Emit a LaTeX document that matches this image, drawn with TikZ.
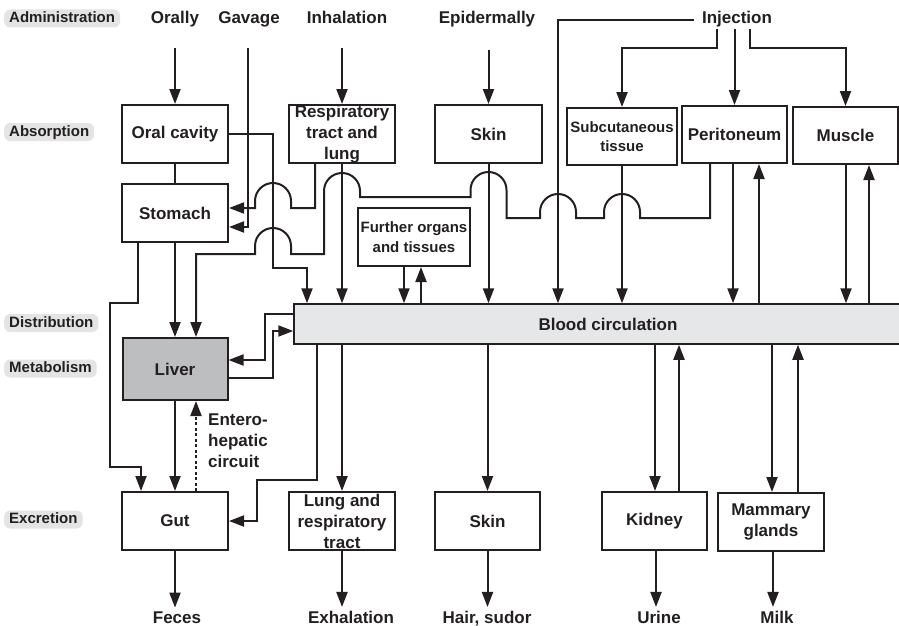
\documentclass[tikz,border=0pt]{standalone}
\usepackage{fontspec}
\setmainfont{Liberation Sans}
\usetikzlibrary{arrows.meta}
\definecolor{ink}{HTML}{231F20}
\definecolor{labgray}{HTML}{E4E4E4}
\definecolor{bloodgray}{HTML}{E6E7E8}
\definecolor{livergray}{HTML}{BCBEC0}
\newcommand\mainf{\fontsize{17}{21}\selectfont\bfseries}
\newcommand\smallf{\fontsize{15}{19.5}\selectfont\bfseries}
\newcommand\labf{\fontsize{15}{18}\selectfont\bfseries}
\tikzset{
  ln/.style={draw=ink, line width=2pt},
  arr/.style={ln, -{Triangle[length=15pt,width=11pt]}},
  box/.style={draw=ink, line width=2pt, minimum width=106pt, minimum height=58pt,
    inner sep=0pt, align=center, font=\mainf, text=ink},
  lab/.style={fill=labgray, rounded corners=6pt, inner xsep=5pt, inner ysep=2pt,
    text height=11pt, text depth=3pt, anchor=west, font=\labf, text=ink},
  txt/.style={font=\mainf, text=ink, inner xsep=1pt, inner ysep=4pt},
}
\begin{document}
\begin{tikzpicture}[x=1pt,y=1pt]
\useasboundingbox (0,0) rectangle (899,-626);

% stage labels
\node[lab] (ladm) at (4,-18.5) {Administration};
\node[lab] (labs) at (4,-132) {Absorption};
\node[lab] (ldis) at (4,-323) {Distribution};
\node[lab] (lmet) at (4,-368.5) {Metabolism};
\node[lab] (lexc) at (4,-519.5) {Excretion};

% routes of administration
\node[txt, anchor=base] (orally) at (175,-24) {Orally};
\node[txt, anchor=base] (gavage) at (249,-24) {Gavage};
\node[txt, anchor=base] (inhal) at (347,-24) {Inhalation};
\node[txt, anchor=base] (epi) at (487,-24) {Epidermally};
\node[txt, anchor=base] (inj) at (737,-24) {Injection};

% boxes
\node[box] (oral) at (175,-134) {Oral cavity};
\node[box] (stomach) at (175,-213) {Stomach};
\node[box] (resp) at (342,-134) {Respiratory\\tract and\\lung};
\node[box, minimum width=107pt] (skinA) at (488.5,-134) {Skin};
\node[box, minimum width=110pt, minimum height=57pt, font=\smallf] (subcut) at (622,-136.5) {Subcutaneous\\tissue};
\node[box, minimum width=105pt, minimum height=57pt] (perit) at (734.5,-134.5) {Peritoneum};
\node[box, minimum width=105pt, minimum height=57pt] (muscle) at (845.5,-135.5) {Muscle};
\node[box, minimum width=112pt, font=\smallf] (further) at (414,-237) {Further organs\\and tissues};
\node[draw=ink, line width=1.5pt, fill=bloodgray, minimum width=606pt, minimum height=40pt,
  inner sep=0pt, label={[txt, xshift=11pt]center:Blood circulation}] (blood) at (597,-324) {};
\node[box, fill=livergray, minimum width=105pt, minimum height=62pt] (liver) at (175,-369) {Liver};
\node[box] (gut) at (175,-521) {Gut};
\node[box] (lung) at (342,-521) {Lung and\\respiratory\\tract};
\node[box, minimum width=105pt] (skinB) at (487.5,-521) {Skin};
\node[box, minimum width=105pt] (kidney) at (654.5,-521) {Kidney};
\node[box] (mammary) at (771,-522) {Mammary\\glands};

% outputs
\node[txt, anchor=base] (feces) at (177,-623.5) {Feces};
\node[txt, anchor=base] (exhal) at (351,-623.5) {Exhalation};
\node[txt, anchor=base] (hair) at (487,-623.5) {Hair, sudor};
\node[txt, anchor=base] (urine) at (659,-623.5) {Urine};
\node[txt, anchor=base] (milk) at (777,-623.5) {Milk};
\node[txt, anchor=west, align=left] (entero) at (207,-441) {Entero-\\hepatic\\circuit};

% free ends
\coordinate (gavtop) at (248,-48);
\coordinate (injA) at (717,-29);
\coordinate (injB) at (750,-29);

% administration arrows
\draw[arr] (oral.north |- 0,-48) -- (oral.north);
\draw[arr] (gavtop) -- (248,-227) -- (stomach.east |- 0,-227);
\draw[arr] (resp.north |- 0,-48) -- (resp.north);
\draw[arr] (skinA.north |- 0,-50) -- (skinA.north);
\draw[arr] ([xshift=-7pt]inj.west) -| (blood.north -| 558,0);
\draw[arr] (injA) -- (717,-48) -| (subcut.north);
\draw[arr] (perit.north |- 0,-29) -- (perit.north);
\draw[arr] (injB) -- (750,-48) -| (muscle.north);

% absorption
\draw[ln] (oral.south) -- (stomach.north);
\draw[arr] (oral.east) -- (273,-134) -- (273,-268) -- (307,-268) -- (blood.north -| 307,0);
\draw[arr] (resp.south) -- (resp.south |- blood.north);
\draw[arr] (resp.south -| 315,0) -- (315,-208) -- (291,-208) -- (291,-201)
  arc[start angle=0, end angle=180, radius=18pt] -- (255,-208) -- (stomach.east |- 0,-208);
\draw[arr] (skinA.south) -- (skinA.south |- blood.north);
\draw[arr] (subcut.south) -- (subcut.south |- blood.north);
\draw[arr] (perit.south -| 733,0) -- (blood.north -| 733,0);
\draw[arr] (blood.north -| 759,0) -- (perit.south -| 759,0);
\draw[arr] (muscle.south -| 846,0) -- (blood.north -| 846,0);
\draw[arr] (blood.north -| 869,0) -- (muscle.south -| 869,0);
\draw[arr] (further.south -| 404,0) -- (blood.north -| 404,0);
\draw[arr] (blood.north -| 421,0) -- (further.south -| 421,0);

% peritoneum to liver (portal)
\draw[arr] (perit.south -| 710,0) -- (710,-218) -- (640,-218) -- (640,-212)
  arc[start angle=0, end angle=180, radius=18pt] -- (604,-218) -- (576,-218) -- (576,-212)
  arc[start angle=0, end angle=180, radius=18pt] -- (540,-218) -- (506.5,-218) -- (506.5,-190)
  arc[start angle=0, end angle=180, radius=18pt] -- (470.5,-197) -- (360,-197) -- (360,-191)
  arc[start angle=0, end angle=180, radius=18pt] -- (324,-254) -- (291,-254) -- (291,-246)
  arc[start angle=0, end angle=180, radius=18pt] -- (255,-254) -- (196,-254) -- (liver.north -| 196,0);

% stomach, liver, gut
\draw[arr] (stomach.south) -- (liver.north);
\draw[arr] (stomach.south -| 138,0) -- (138,-303) -- (110,-303) -- (110,-467) -- (141,-467) -- (gut.north -| 141,0);
\draw[arr] (blood.west |- 0,-314) -- (265,-314) -- (265,-360) -- (liver.east |- 0,-360);
\draw[arr] (liver.east |- 0,-378) -- (273,-378) -- (273,-331) -- (blood.west |- 0,-331);
\draw[arr] (liver.south) -- (gut.north);
\draw[arr, dash pattern=on 3pt off 2.5pt] (gut.north -| 196,0) -- (liver.south -| 196,0);

% excretion
\draw[arr] (blood.south -| 317,0) -- (317,-480) -- (257,-480) -- (257,-521) -- (gut.east |- 0,-521);
\draw[arr] (lung.north |- blood.south) -- (lung.north);
\draw[arr] (skinB.north |- blood.south) -- (skinB.north);
\draw[arr] (blood.south -| 655,0) -- (kidney.north -| 655,0);
\draw[arr] (kidney.north -| 679,0) -- (blood.south -| 679,0);
\draw[arr] (blood.south -| 772,0) -- (mammary.north -| 772,0);
\draw[arr] (mammary.north -| 798,0) -- (blood.south -| 798,0);

\draw[arr] (gut.south) -- (gut.south |- feces.north);
\draw[arr] (lung.south) -- (lung.south |- exhal.north);
\draw[arr] (skinB.south) -- (skinB.south |- hair.north);
\draw[arr] (kidney.south -| 656,0) -- (urine.north -| 656,0);
\draw[arr] (mammary.south -| 773,0) -- (milk.north -| 773,0);
\end{tikzpicture}
\end{document}
